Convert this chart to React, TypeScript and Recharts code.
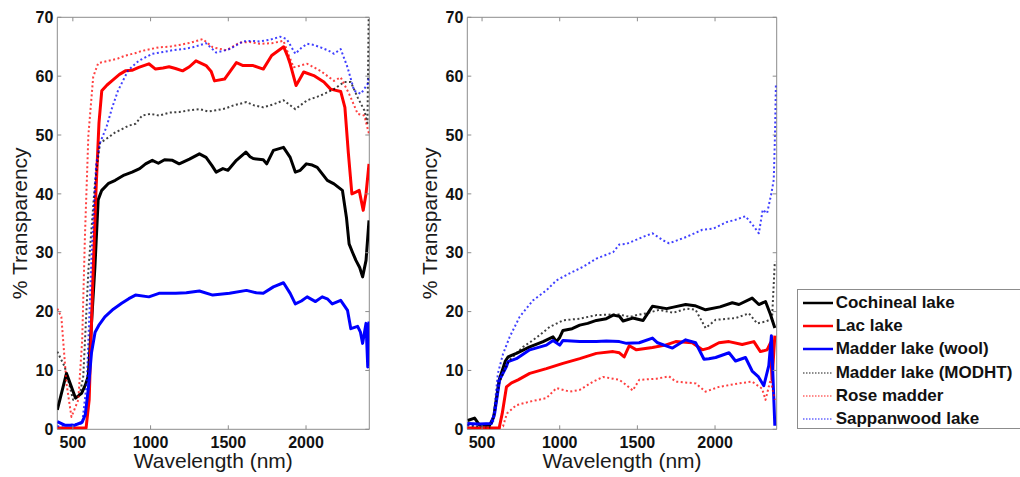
import React from 'react';
import { LineChart, Line, XAxis, YAxis, ReferenceArea, Legend } from 'recharts';

type Pt = [number, number];

const seriesNames = [
  'Cochineal lake',
  'Lac lake',
  'Madder lake (wool)',
  'Madder lake (MODHT)',
  'Rose madder',
  'Sappanwood lake',
];
const xTicks = [500, 1000, 1500, 2000];
const yTicks = [0, 10, 20, 30, 40, 50, 60, 70];
const xLabel = 'Wavelength (nm)';
const yLabel = '% Transparency';

// ---------- Left panel ----------
const cochinealA: Pt[] = [[400,3.3],[459,9.5],[517,5.3],[556,6.1],[580,7.5],[599,9],[620,18],[642,27.6],[663,39],[686,40.6],[730,41.8],[773,42.3],[830,43.2],[881,43.7],[930,44.3],[968,45.1],[1011,45.7],[1050,45.2],[1090,45.8],[1141,45.7],[1184,45.1],[1250,45.9],[1314,46.8],[1357,46.2],[1395,44.8],[1422,43.7],[1465,44.3],[1498,44.0],[1552,45.7],[1613,47.1],[1640,46.3],[1660,46.0],[1725,45.8],[1747,45.1],[1790,47.4],[1855,47.9],[1898,46.2],[1931,43.7],[1963,44.0],[2002,45.1],[2040,44.9],[2072,44.5],[2137,42.3],[2180,41.7],[2234,40.6],[2260,36],[2277,31.5],[2300,30],[2321,28.7],[2345,27.5],[2364,25.9],[2386,28.7],[2405,35.5]];
const lacA: Pt[] = [[400,0.2],[585,0.2],[605,5],[628,25],[648,40],[668,52],[686,57.5],[720,58.5],[751,59.2],[800,60.3],[838,60.9],[880,61.0],[924,61.5],[989,62.1],[1032,61.2],[1080,61.4],[1119,61.6],[1160,61.3],[1206,60.9],[1250,61.6],[1292,62.6],[1357,61.8],[1390,60.8],[1411,59.2],[1476,59.5],[1552,62.3],[1595,61.8],[1660,61.8],[1725,61.2],[1779,63.5],[1856,65.0],[1880,63.5],[1898,62.1],[1936,58.4],[1960,59.5],[1985,60.7],[2050,60.1],[2115,59.0],[2158,57.8],[2223,57.4],[2250,54.7],[2272,47],[2295,40.0],[2320,40.3],[2342,40.6],[2368,37.2],[2386,40],[2405,45.1]];
const madderWoolA: Pt[] = [[400,1.3],[448,0.7],[513,0.7],[560,1.2],[580,2.5],[600,7],[620,13],[643,16.5],[670,17.8],[706,19.1],[760,20.4],[814,21.4],[860,22.2],[903,22.8],[989,22.5],[1054,23.1],[1162,23.1],[1230,23.2],[1314,23.5],[1400,22.8],[1508,23.1],[1617,23.6],[1680,23.2],[1725,23.1],[1790,24.2],[1855,24.9],[1898,23.1],[1931,21.3],[1970,21.8],[2007,22.5],[2061,21.7],[2104,22.5],[2140,22.1],[2169,21.3],[2223,21.9],[2267,20.2],[2288,17.1],[2332,17.5],[2350,16.5],[2364,14.6],[2386,18.0],[2397,10.6],[2405,18.3]];
const madderModhtA: Pt[] = [[400,13.2],[448,10.6],[502,5.0],[546,6.1],[567,9],[600,27],[642,41.8],[674,48.6],[729,49.6],[770,50.4],[816,51.0],[860,51.6],[903,51.9],[946,53.3],[1000,53.6],[1054,53.3],[1120,53.8],[1184,53.9],[1250,54.2],[1314,54.4],[1370,54.0],[1422,54.2],[1480,54.5],[1530,55.0],[1617,55.6],[1670,55.0],[1725,54.7],[1790,55.2],[1855,55.9],[1931,54.4],[2007,55.9],[2093,56.7],[2180,57.8],[2245,59.0],[2288,59.0],[2332,56.4],[2375,54.2],[2395,52],[2403,70]];
const roseMadderA: Pt[] = [[400,20.5],[426,19.1],[459,7.8],[491,2.1],[535,5.0],[560,15],[578,33],[600,50],[631,59.9],[663,62.2],[729,62.6],[790,63.0],[838,63.5],[900,63.9],[946,64.3],[1000,64.6],[1054,64.9],[1120,65.0],[1184,65.3],[1260,65.7],[1335,66.3],[1400,64.9],[1487,64.4],[1573,65.7],[1640,65.8],[1703,65.5],[1780,65.6],[1855,66.0],[1890,63.5],[1920,61.5],[2007,62.1],[2093,60.9],[2180,59.2],[2223,59.8],[2277,57.0],[2310,55],[2332,53.6],[2375,53.3],[2405,50.2]];
const sappanwoodA: Pt[] = [[400,0.5],[560,1.0],[590,8],[621,30],[650,45.0],[674,48.6],[717,51.4],[751,54.5],[790,57.5],[856,61.0],[924,62.6],[1011,63.8],[1080,64.1],[1141,64.4],[1210,64.6],[1271,64.9],[1357,65.6],[1422,64.0],[1508,64.6],[1595,65.9],[1650,66.0],[1703,65.9],[1770,66.2],[1833,66.7],[1876,66.3],[1931,63.8],[1970,64.8],[2007,65.5],[2050,65.3],[2093,64.9],[2140,64.4],[2180,63.8],[2223,64.6],[2267,61.5],[2310,57.5],[2353,57.0],[2397,58.7],[2405,59.8]];

// ---------- Right panel ----------
const cochinealB: Pt[] = [[408,1.5],[452,1.9],[484,0.7],[549,0.7],[575,2.1],[610,8.4],[650,11.6],[668,12.3],[721,12.9],[807,14.0],[893,14.9],[957,15.7],[979,14.9],[1000,15.6],[1021,16.8],[1080,17.1],[1129,17.7],[1180,18.0],[1236,18.5],[1300,18.8],[1344,19.4],[1384,19.2],[1408,18.4],[1470,18.9],[1537,18.5],[1597,20.9],[1688,20.5],[1740,20.8],[1811,21.2],[1870,21.0],[1939,20.3],[2032,20.8],[2111,21.5],[2154,21.2],[2239,22.3],[2282,21.2],[2325,21.7],[2357,19.5],[2385,17.2]];
const lacB: Pt[] = [[405,0.2],[610,0.2],[630,2.7],[657,7.2],[690,7.9],[732,8.4],[807,9.5],[914,10.3],[1021,11.2],[1129,12.0],[1236,12.9],[1344,13.2],[1384,13.0],[1415,12.3],[1448,14.2],[1494,13.5],[1597,13.9],[1680,14.3],[1747,14.9],[1854,14.7],[1918,13.5],[1960,13.8],[2025,14.7],[2090,14.9],[2175,14.4],[2250,14.9],[2292,13.2],[2335,13.5],[2357,14.7],[2367,8.4],[2385,15.9]];
const madderWoolB: Pt[] = [[405,1.0],[484,0.9],[560,1.0],[581,2.7],[613,8.4],[656,10.6],[668,11.5],[721,12.0],[807,13.5],[914,14.3],[957,15.1],[1000,14.3],[1021,15.1],[1129,14.9],[1236,14.9],[1300,15.0],[1384,14.9],[1430,14.6],[1512,14.7],[1597,15.5],[1630,14.7],[1726,13.8],[1811,15.2],[1875,14.7],[1929,11.9],[1960,12.0],[2004,12.2],[2090,13.0],[2132,11.6],[2196,12.2],[2239,9.9],[2280,8.9],[2314,7.4],[2346,10.8],[2363,15.9],[2385,0.6]];
const madderModhtB: Pt[] = [[405,0.7],[549,0.2],[575,2.1],[610,7.8],[650,10.5],[678,11.8],[764,14.0],[820,15.0],[871,16.0],[936,17.4],[1021,18.5],[1129,18.8],[1236,19.4],[1344,19.5],[1384,19.5],[1451,19.1],[1512,19.5],[1559,19.7],[1640,20.3],[1731,19.8],[1817,20.5],[1875,20.3],[1939,17.2],[2004,18.6],[2132,18.9],[2218,19.7],[2271,18.0],[2325,18.3],[2367,18.8],[2385,28.5]];
const roseMadderB: Pt[] = [[405,0.2],[610,0.2],[635,0.5],[660,2.7],[721,4.1],[807,4.7],[914,5.3],[979,7.0],[1064,6.4],[1129,6.7],[1215,8.1],[1279,8.9],[1344,8.6],[1384,8.4],[1430,7.5],[1470,6.6],[1512,8.4],[1623,8.6],[1704,9.0],[1747,8.1],[1875,7.8],[1939,6.4],[2025,7.2],[2154,7.8],[2239,8.1],[2303,6.9],[2325,5.0],[2357,8.4],[2385,5.0]];
const sappanwoodB: Pt[] = [[405,0.7],[570,1.0],[602,9.5],[635,12.8],[678,15.7],[742,19.1],[828,21.9],[914,23.6],[979,25.3],[1064,26.5],[1150,27.6],[1236,29.0],[1344,30.1],[1384,31.4],[1430,31.5],[1537,32.7],[1597,33.3],[1666,32.1],[1704,31.6],[1817,32.7],[1918,33.9],[1989,34.1],[2074,35.2],[2132,35.6],[2196,36.2],[2246,34.6],[2282,33.3],[2307,37.3],[2335,36.7],[2363,40.1],[2378,42.4],[2386,50],[2392,58.7]];

const panelA = [cochinealA, lacA, madderWoolA, madderModhtA, roseMadderA, sappanwoodA];
const panelB = [cochinealB, lacB, madderWoolB, madderModhtB, roseMadderB, sappanwoodB];

const styles = [
  { color: '#000000', dotted: false },
  { color: '#ff0000', dotted: false },
  { color: '#0000ff', dotted: false },
  { color: '#000000', dotted: true },
  { color: '#ff0000', dotted: true },
  { color: '#0000ff', dotted: true },
];

const AXIS = '#8c8c8c';
const FONT = '"Liberation Sans", Arial, Helvetica, sans-serif';
const H = 477;

const toPoints = (arr: Pt[]) => arr.map(([nm, pct]) => ({ nm, pct }));

const renderLegend = () => (
  <div
    style={{
      width: 230,
      height: 140,
      border: `1px solid ${AXIS}`,
      background: '#fff',
      boxSizing: 'border-box',
      paddingTop: 1,
      fontFamily: FONT,
    }}
  >
    {seriesNames.map((name, i) => (
      <div key={name} style={{ height: 23.3, display: 'flex', alignItems: 'center' }}>
        <svg width={38} height={10} style={{ flex: 'none' }}>
          <line
            x1={5}
            x2={35}
            y1={5}
            y2={5}
            stroke={styles[i].color}
            strokeWidth={styles[i].dotted ? 1.5 : 2.5}
            strokeDasharray={styles[i].dotted ? '1.5 1.5' : undefined}
            strokeOpacity={styles[i].dotted ? 0.6 : 1}
          />
        </svg>
        <span style={{ fontSize: 17, fontWeight: 'bold', color: '#111', whiteSpace: 'nowrap' }}>{name}</span>
      </div>
    ))}
  </div>
);

function Panel({
  left,
  width,
  margin,
  domain,
  series,
  legend,
}: {
  left: number;
  width: number;
  margin: { top: number; right: number; bottom: number; left: number };
  domain: [number, number];
  series: Pt[][];
  legend?: { left: number; top: number };
}) {
  const plotTop = margin.top;
  const plotRight = width - margin.right;

  const renderXTick = (p: any) => (
    <g>
      <line x1={p.x} x2={p.x} y1={p.y} y2={p.y - 4} stroke={AXIS} />
      <line x1={p.x} x2={p.x} y1={plotTop} y2={plotTop + 4} stroke={AXIS} />
      <text x={p.x} y={p.y + 19} textAnchor="middle" fontFamily={FONT} fontWeight="bold" fontSize={16} fill="#111">
        {p.payload.value}
      </text>
    </g>
  );
  const renderYTick = (p: any) => (
    <g>
      <line x1={p.x} x2={p.x + 4} y1={p.y} y2={p.y} stroke={AXIS} />
      <line x1={plotRight} x2={plotRight - 4} y1={p.y} y2={p.y} stroke={AXIS} />
      <text x={p.x - 4} y={p.y} dy="0.36em" textAnchor="end" fontFamily={FONT} fontWeight="bold" fontSize={16} fill="#111">
        {p.payload.value}
      </text>
    </g>
  );
  const renderXLabel = (p: any) => {
    const vb = p.viewBox;
    return (
      <text x={vb.x + vb.width / 2} y={vb.y + 39} textAnchor="middle" fontFamily={FONT} fontSize={21} fill="#1a1a1a">
        {xLabel}
      </text>
    );
  };
  const renderYLabel = (p: any) => {
    const vb = p.viewBox;
    const cx = vb.x + vb.width - 30;
    const cy = vb.y + vb.height / 2;
    return (
      <text x={cx} y={cy} transform={`rotate(-90 ${cx} ${cy})`} textAnchor="middle" fontFamily={FONT} fontSize={21} fill="#1a1a1a">
        {yLabel}
      </text>
    );
  };

  return (
    <div style={{ position: 'absolute', left, top: 0 }}>
      <LineChart
        width={width}
        height={H}
        margin={{ top: margin.top, right: margin.right, bottom: margin.bottom - 1, left: margin.left - 1 }}
      >
        <XAxis
          type="number"
          dataKey="nm"
          domain={domain}
          ticks={xTicks}
          interval={0}
          allowDataOverflow
          height={1}
          axisLine={false}
          tickLine={false}
          tickSize={0}
          tickMargin={0}
          tick={renderXTick}
          label={{ content: renderXLabel }}
        />
        <YAxis
          type="number"
          domain={[0, 70]}
          ticks={yTicks}
          interval={0}
          allowDataOverflow
          width={1}
          axisLine={false}
          tickLine={false}
          tickSize={0}
          tickMargin={0}
          tick={renderYTick}
          label={{ content: renderYLabel }}
        />
        {series.map((s, i) => (
          <Line
            key={seriesNames[i]}
            name={seriesNames[i]}
            data={toPoints(s)}
            dataKey="pct"
            type="linear"
            stroke={styles[i].color}
            strokeWidth={styles[i].dotted ? 2 : 3}
            strokeDasharray={styles[i].dotted ? '2 2.5' : undefined}
            strokeOpacity={styles[i].dotted ? 0.75 : 1}
            strokeLinejoin="round"
            dot={false}
            activeDot={false}
            isAnimationActive={false}
          />
        ))}
        <ReferenceArea x1={domain[0]} x2={domain[1]} y1={0} y2={70} fill="none" stroke={AXIS} strokeWidth={1} />
        {legend && (
          <Legend
            layout="horizontal"
            align="center"
            verticalAlign="middle"
            wrapperStyle={{ left: legend.left, top: legend.top, width: 230, height: 140 }}
            content={renderLegend}
          />
        )}
      </LineChart>
    </div>
  );
}

export default function App() {
  return (
    <div
      style={{
        position: 'absolute',
        left: 0,
        top: 0,
        width: 1020,
        height: 477,
        overflow: 'hidden',
        background: '#fff',
      }}
    >
      <Panel
        left={0}
        width={400}
        margin={{ top: 17.3, right: 30.7, bottom: 47.7, left: 57.3 }}
        domain={[400, 2407]}
        series={panelA}
      />
      <Panel
        left={400}
        width={620}
        margin={{ top: 17.3, right: 243.3, bottom: 47.7, left: 67.3 }}
        domain={[405, 2397]}
        series={panelB}
        legend={{ left: 396.7, top: 289 }}
      />
    </div>
  );
}
